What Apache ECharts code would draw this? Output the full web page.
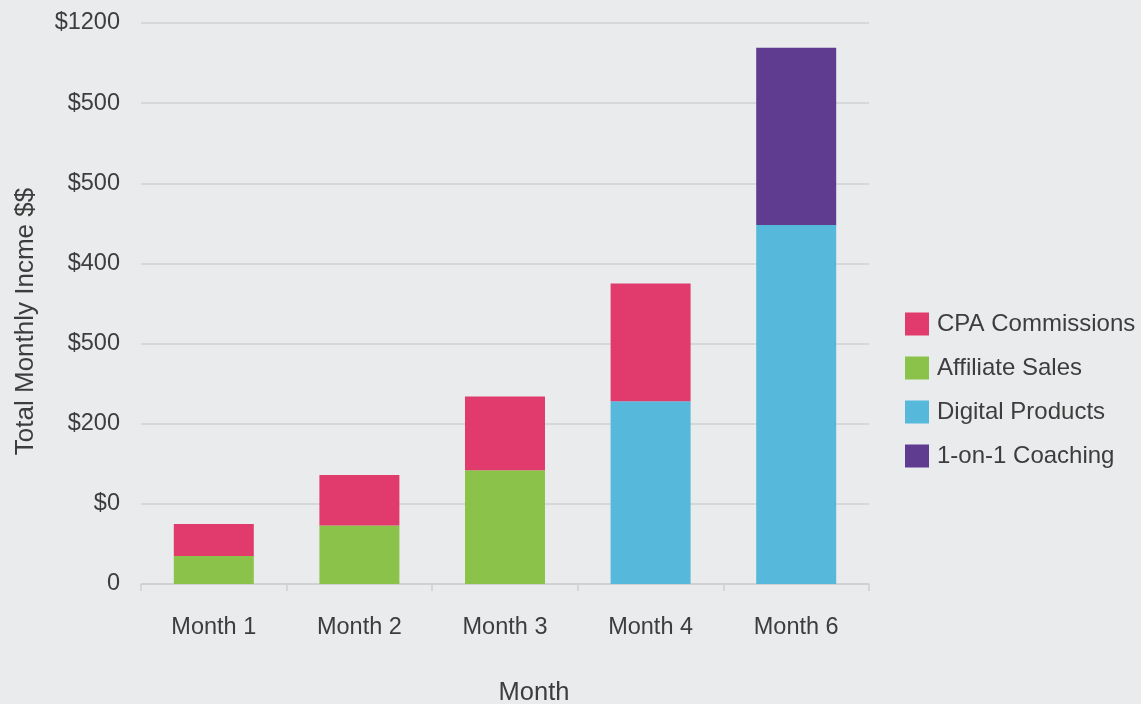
<!DOCTYPE html>
<html>
<head>
<meta charset="utf-8">
<script src="https://cdn.jsdelivr.net/npm/echarts@6/dist/echarts.min.js"></script>
<style>
html, body { margin: 0; padding: 0; background: #eaebec; }
#chart { width: 1141px; height: 704px; }
</style>
</head>
<body>
<div id="chart"></div>
<script>
// data
var months = ['Month 1', 'Month 2', 'Month 3', 'Month 4', 'Month 6']
var yTickLabels = ['0', '$0', '$200', '$500', '$400', '$500', '$500', '$1200']
var affiliateSales = [35, 73, 142, 0, 0]
var digitalProducts = [0, 0, 0, 228, 448]
var cpaCommissions = [40, 63, 92, 147, 0]
var coaching = [0, 0, 0, 0, 221]

var chart = echarts.init(document.getElementById('chart'))
var fontFam = '"Liberation Sans", Arial, sans-serif'
var textColor = '#3d3d3d'
var lineColor = '#cfd0d2'

var option = {
    backgroundColor: '#eaebec',
    textStyle: { fontFamily: fontFam },
    grid: {
        left: 141,
        right: 272,
        top: 23,
        bottom: 120,
        containLabel: false,
        outerBoundsMode: 'none'
    },
    legend: {
        orient: 'vertical',
        left: 905,
        top: 312,
        padding: 0,
        itemWidth: 24,
        itemHeight: 23,
        itemGap: 20,
        icon: 'rect',
        data: ['CPA Commissions', 'Affiliate Sales', 'Digital Products', '1-on-1 Coaching'],
        textStyle: { fontSize: 24, color: textColor, fontFamily: fontFam, padding: [0, 0, 0, 3] }
    },
    xAxis: {
        type: 'category',
        data: months,
        name: 'Month',
        nameLocation: 'middle',
        nameGap: 96,
        nameTextStyle: { fontSize: 25.5, color: textColor, padding: [0, 0, 0, 58] },
        axisLine: { lineStyle: { color: lineColor, width: 1.5 } },
        axisTick: { show: true, length: 7, lineStyle: { color: lineColor, width: 1.5 } },
        axisLabel: { fontSize: 23.5, color: textColor, margin: 32 }
    },
    yAxis: {
        type: 'value',
        min: 0,
        max: 700,
        interval: 100,
        name: 'Total Monthly Incme $$',
        nameLocation: 'middle',
        nameGap: 102,
        nameRotate: 90,
        nameTextStyle: { fontSize: 26, color: textColor, padding: [0, 36, 0, 0] },
        axisLine: { show: false },
        axisTick: { show: false },
        axisLabel: {
            fontSize: 23.5,
            color: textColor,
            margin: 21,
            formatter: function (v) {
                return yTickLabels[Math.round(v / 100)]
            }
        },
        splitLine: { lineStyle: { color: lineColor, width: 1.5 } }
    },
    series: [
        {
            name: 'Affiliate Sales',
            type: 'bar',
            stack: 'total',
            barWidth: 80,
            itemStyle: { color: '#8bc34a' },
            data: affiliateSales
        },
        {
            name: 'Digital Products',
            type: 'bar',
            stack: 'total',
            barWidth: 80,
            itemStyle: { color: '#56b8db' },
            data: digitalProducts
        },
        {
            name: 'CPA Commissions',
            type: 'bar',
            stack: 'total',
            barWidth: 80,
            itemStyle: { color: '#e03b6c' },
            data: cpaCommissions
        },
        {
            name: '1-on-1 Coaching',
            type: 'bar',
            stack: 'total',
            barWidth: 80,
            itemStyle: { color: '#5f3c8f' },
            data: coaching
        }
    ]
}
chart.setOption(option)
</script>
</body>
</html>
